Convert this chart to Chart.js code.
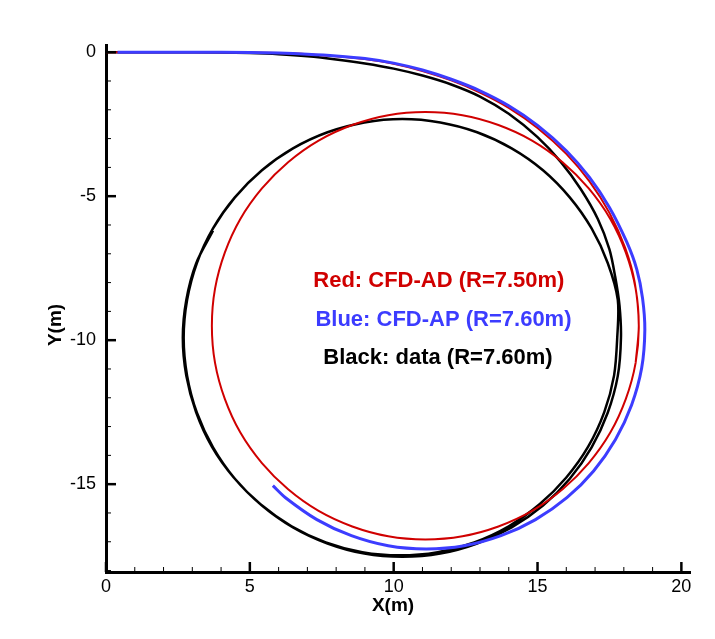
<!DOCTYPE html>
<html lang="en">
<head>
<meta charset="UTF-8">
<title>Turning Circle</title>
<script src="https://cdn.jsdelivr.net/npm/chart.js"></script>
<style>
    body { margin: 0; background: #fff; }
    .wrap { width: 715px; height: 639px; }
</style>
</head>
<body>
<div class="wrap"><canvas id="pathChart"></canvas></div>
<script>
// tick labels
const xTicks = [0, 5, 10, 15, 20];
const yTicks = [0, -5, -10, -15];

const seriesNames = ['Blue: CFD-AP (R=7.60m)', 'Red: CFD-AD (R=7.50m)', 'Black: data (R=7.60m)'];

// [x, y] in metres
const bluePath = [
    [0.4, 0], [3, 0], [5, -0.01], [6, -0.03], [7, -0.07], [8, -0.13], [9, -0.22],
    [10, -0.38], [11, -0.62], [12, -0.94], [13, -1.34], [14, -1.86], [15, -2.54],
    [16, -3.42], [16.8, -4.34], [17.5, -5.39], [18.1, -6.59], [18.45, -7.54],
    [18.65, -8.54], [18.73, -9.65], [18.62, -10.97], [18.27, -12.25], [17.71, -13.45],
    [16.95, -14.54], [16.02, -15.47], [14.93, -16.23], [13.73, -16.79], [12.45, -17.14],
    [11.13, -17.25], [9.81, -17.14], [8.53, -16.79], [7.33, -16.23], [6.24, -15.47],
    [5.8, -15.05]
];

const redPath = [
    [0, 0], [3, 0], [5, -0.01], [6, -0.03], [7, -0.07], [8, -0.14], [9, -0.24],
    [10, -0.4], [11, -0.65], [12, -0.98], [13, -1.4], [14, -1.93], [15, -2.63],
    [16, -3.53], [16.8, -4.48], [17.5, -5.58], [18.05, -6.8], [18.38, -8.0],
    [18.52, -9.5], [18.41, -10.79], [18.07, -12.04], [17.53, -13.21], [16.78, -14.27],
    [15.87, -15.18], [14.81, -15.93], [13.64, -16.47], [12.39, -16.81], [11.1, -16.92],
    [9.81, -16.81], [8.56, -16.47], [7.39, -15.93], [6.33, -15.18], [5.42, -14.27],
    [4.67, -13.21], [4.13, -12.04], [3.79, -10.79], [3.68, -9.5], [3.79, -8.21],
    [4.13, -6.96], [4.67, -5.79], [5.42, -4.73], [6.33, -3.82], [7.39, -3.07],
    [8.56, -2.53], [9.81, -2.19], [11.1, -2.08], [12.39, -2.19], [13.64, -2.53],
    [14.81, -3.07], [15.87, -3.82], [16.78, -4.73], [17.53, -5.79], [18.07, -6.96],
    [18.41, -8.21], [18.52, -9.5], [18.41, -10.79]
];

const blackPath = [
    [0, 0], [2, 0], [4, -0.01], [5, -0.03], [6, -0.07], [7, -0.14], [8, -0.25],
    [9, -0.39], [10, -0.57], [11, -0.81], [12, -1.12], [13, -1.54], [14, -2.14],
    [15, -2.95], [15.8, -3.8], [16.5, -4.75], [17.1, -5.8], [17.5, -6.85],
    [17.7, -7.8], [17.85, -8.8], [17.9, -9.92], [17.79, -11.24], [17.44, -12.52],
    [16.88, -13.72], [16.12, -14.81], [15.19, -15.74], [14.1, -16.5], [12.9, -17.06],
    [11.62, -17.41], [10.3, -17.52], [8.98, -17.41], [7.7, -17.06], [6.5, -16.5],
    [5.42, -15.74], [4.48, -14.81], [3.72, -13.72], [3.16, -12.52], [2.82, -11.24],
    [2.7, -9.92], [2.82, -8.6], [3.16, -7.32], [3.72, -6.12], [4.48, -5.04],
    [5.42, -4.1], [6.5, -3.34], [7.7, -2.78], [8.98, -2.44], [10.3, -2.32],
    [11.62, -2.44], [12.9, -2.78], [14.1, -3.34], [15.19, -4.1], [16.12, -5.04],
    [16.88, -6.12], [17.44, -7.32], [17.79, -8.6], [17.77, -9.92], [17.66, -11.23],
    [17.32, -12.5], [16.76, -13.7], [16.0, -14.77], [15.07, -15.7], [14.0, -16.46],
    [12.8, -17.02], [11.53, -17.36], [10.22, -17.47], [8.91, -17.36], [7.64, -17.02],
    [6.45, -16.46], [5.37, -15.7], [4.44, -14.77], [3.68, -13.7], [3.13, -12.5],
    [2.79, -11.23], [2.67, -9.92], [2.79, -8.61], [3.13, -7.34], [3.72, -6.2]
];

const colors = ['#3c3cff', '#d00000', '#000000'];

function toPoints(path) {
    return path.map(p => ({ x: p[0], y: p[1] }));
}

const font = 'Liberation Sans, Arial, sans-serif';

const tickMarks = {
    id: 'tickMarks',
    afterDraw(chart) {
        const { ctx, chartArea: a, scales: { x, y } } = chart;
        ctx.save();
        ctx.strokeStyle = '#000';
        for (let v = 0; v <= 20; v++) {
            const major = v % 5 === 0;
            const px = x.getPixelForValue(v);
            ctx.lineWidth = major ? 2.5 : 1;
            ctx.beginPath();
            ctx.moveTo(px, a.bottom);
            ctx.lineTo(px, a.bottom - (major ? 10 : 5));
            ctx.stroke();
        }
        for (let v = 0; v >= -18; v--) {
            const major = v % 5 === 0;
            const py = y.getPixelForValue(v);
            ctx.lineWidth = major ? 2.5 : 1;
            ctx.beginPath();
            ctx.moveTo(a.left, py);
            ctx.lineTo(a.left + (major ? 10 : 5), py);
            ctx.stroke();
        }

        // axis titles
        ctx.fillStyle = '#000';
        ctx.font = 'bold 19px ' + font;
        ctx.textAlign = 'center';
        ctx.textBaseline = 'middle';
        ctx.fillText('X(m)', 393, 606);
        ctx.translate(56, 325);
        ctx.rotate(-Math.PI / 2);
        ctx.fillText('Y(m)', 0, 0);
        ctx.restore();

        // legend text inside the plot
        ctx.save();
        ctx.font = 'bold 22px ' + font;
        ctx.textAlign = 'center';
        ctx.textBaseline = 'middle';
        const spots = [[11.73, -9.3], [11.57, -7.95], [11.54, -10.63]];
        seriesNames.forEach((t, i) => {
            ctx.fillStyle = colors[i];
            ctx.fillText(t, x.getPixelForValue(spots[i][0]), y.getPixelForValue(spots[i][1]));
        });
        ctx.restore();
    }
};

new Chart(document.getElementById('pathChart'), {
    type: 'scatter',
    data: {
        datasets: [bluePath, redPath, blackPath].map((p, i) => ({
            label: seriesNames[i],
            data: toPoints(p),
            showLine: true,
            borderColor: colors[i],
            borderWidth: [3, 2, 2.5][i],
            pointRadius: 0,
            tension: 0.3,
            fill: false
        }))
    },
    options: {
        responsive: true,
        maintainAspectRatio: false,
        animation: false,
        layout: { padding: { top: 45, right: 25, left: 0, bottom: 0 } },
        plugins: { legend: { display: false }, tooltip: { enabled: false } },
        scales: {
            x: {
                type: 'linear',
                min: 0,
                max: 20.3,
                afterBuildTicks: s => { s.ticks = xTicks.map(v => ({ value: v })); },
                afterFit: s => { s.height = 67; },
                grid: { display: false, drawTicks: false },
                border: { display: true, color: '#000', width: 3 },
                ticks: { color: '#000', font: { family: font, size: 18 }, padding: 4, maxRotation: 0, autoSkip: false }
            },
            y: {
                type: 'linear',
                min: -18.05,
                max: 0.25,
                afterBuildTicks: s => { s.ticks = yTicks.map(v => ({ value: v })); },
                afterFit: s => { s.width = 106; },
                grid: { display: false, drawTicks: false },
                border: { display: true, color: '#000', width: 3 },
                ticks: { color: '#000', font: { family: font, size: 18 }, padding: 10, autoSkip: false }
            }
        }
    },
    plugins: [tickMarks]
});
</script>
</body>
</html>
